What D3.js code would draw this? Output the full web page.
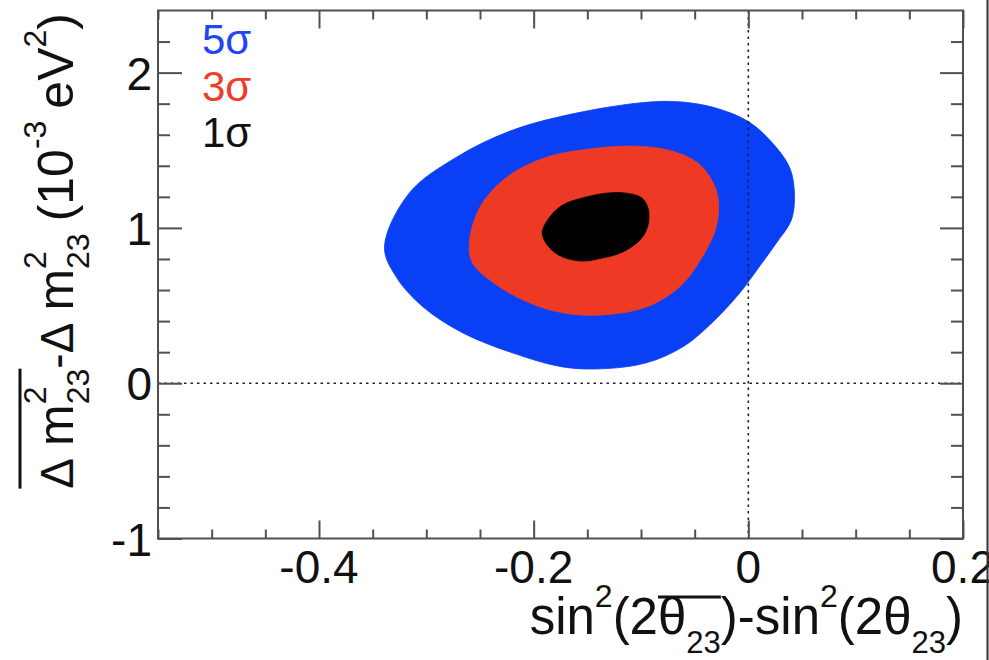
<!DOCTYPE html>
<html><head><meta charset="utf-8">
<script src="https://cdn.jsdelivr.net/npm/d3@7"></script>
<style>html,body{margin:0;padding:0;background:#fff;} svg{display:block;} text{font-family:"Liberation Sans",Arial,Helvetica,sans-serif;}</style>
</head><body>
<svg id="c" width="989" height="660"></svg>
<script>
// ---------- data ----------
const xDomain = [-0.55, 0.2];
const yDomain = [-1, 2.4];
const xMajorTicks = [-0.4, -0.2, 0, 0.2];
const xTickLabels = ["-0.4", "-0.2", "0", "0.2"];
const xMinorTicks = [-0.55, -0.5, -0.45, -0.35, -0.3, -0.25, -0.15, -0.1, -0.05, 0.05, 0.1, 0.15];
const yMajorTicks = [-1, 0, 1, 2];
const yTickLabels = ["-1", "0", "1", "2"];
const yMinorTicks = [-0.8, -0.6, -0.4, -0.2, 0.2, 0.4, 0.6, 0.8, 1.2, 1.4, 1.6, 1.8, 2.2];
const legendLabels = ["5σ", "3σ", "1σ"];

// contour outlines [sin2 diff, dm2 diff]
const contour5sigma = [
  [-0.339, 0.877], [-0.316, 1.224], [-0.272, 1.455], [-0.220, 1.629], [-0.157, 1.744],
  [-0.095, 1.809], [-0.064, 1.812], [-0.032, 1.775], [0.000, 1.685], [0.024, 1.535],
  [0.039, 1.380], [0.043, 1.205], [0.040, 1.050], [0.026, 0.902], [0.010, 0.748],
  [-0.008, 0.581], [-0.034, 0.388], [-0.061, 0.234], [-0.095, 0.131], [-0.136, 0.093],
  [-0.173, 0.105], [-0.220, 0.196], [-0.266, 0.324], [-0.303, 0.491], [-0.328, 0.684]
];
const contour3sigma = [
  [-0.260, 0.902], [-0.250, 1.134], [-0.225, 1.327], [-0.188, 1.455], [-0.142, 1.513],
  [-0.104, 1.526], [-0.074, 1.500], [-0.048, 1.423], [-0.034, 1.307], [-0.028, 1.179],
  [-0.030, 1.005], [-0.043, 0.812], [-0.064, 0.620], [-0.095, 0.491], [-0.136, 0.440],
  [-0.173, 0.453], [-0.210, 0.536], [-0.241, 0.665], [-0.257, 0.774]
];
const contour1sigma = [
  [-0.192, 0.967], [-0.185, 1.070], [-0.173, 1.147], [-0.155, 1.192], [-0.132, 1.224],
  [-0.114, 1.224], [-0.099, 1.192], [-0.093, 1.115], [-0.094, 1.005], [-0.101, 0.922],
  [-0.117, 0.845], [-0.136, 0.806], [-0.155, 0.787], [-0.173, 0.813], [-0.185, 0.870]
];

// ---------- drawing ----------
const svg = d3.select("#c");
const colors = { s5: "#0a40f5", s3: "#ee3a24", s1: "#000000" };
const legendColors = ["#1f45f5", "#f03c2a", "#111111"];
const axisColor = "#505050";

const L = 158, R = 963, T = 10.5, B = 538.5;
const x = d3.scaleLinear().domain(xDomain).range([L, R]);
const y = d3.scaleLinear().domain(yDomain).range([B, T]);

svg.append("rect").attr("width", 989).attr("height", 660).attr("fill", "#fff");

const line = d3.line().x(d => x(d[0])).y(d => y(d[1])).curve(d3.curveCatmullRomClosed.alpha(0.5));
[[contour5sigma, colors.s5], [contour3sigma, colors.s3], [contour1sigma, colors.s1]].forEach(([c, col]) => {
  svg.append("path").attr("d", line(c)).attr("fill", col).attr("stroke", col).attr("stroke-width", 0.8);
});

// dotted reference lines
svg.append("line").attr("x1", L).attr("x2", R).attr("y1", y(0)).attr("y2", y(0))
  .attr("stroke", "#222").attr("stroke-width", 1.6).attr("stroke-dasharray", "2.5,4");
svg.append("line").attr("x1", x(0)).attr("x2", x(0)).attr("y1", T).attr("y2", B)
  .attr("stroke", "#222").attr("stroke-width", 1.6).attr("stroke-dasharray", "2.5,4");

// ticks via d3 axes
function tickAxis(gen, vals, size, transform) {
  svg.append("g").attr("transform", transform)
    .call(gen.tickValues(vals).tickSize(size).tickFormat(""))
    .call(g => { g.select(".domain").remove(); g.selectAll("line").attr("stroke", axisColor).attr("stroke-width", 2); });
}
tickAxis(d3.axisBottom(x), xMinorTicks, -9, `translate(0,${B})`);
tickAxis(d3.axisBottom(x), xMajorTicks, -18, `translate(0,${B})`);
tickAxis(d3.axisTop(x), xMinorTicks, -9, `translate(0,${T})`);
tickAxis(d3.axisTop(x), xMajorTicks, -18, `translate(0,${T})`);
tickAxis(d3.axisLeft(y), yMinorTicks, -12, `translate(${L},0)`);
tickAxis(d3.axisLeft(y), yMajorTicks, -24, `translate(${L},0)`);
tickAxis(d3.axisRight(y), yMinorTicks, -12, `translate(${R},0)`);
tickAxis(d3.axisRight(y), yMajorTicks, -23, `translate(${R},0)`);

// frame
svg.append("rect").attr("x", L).attr("y", T).attr("width", R - L).attr("height", B - T)
  .attr("fill", "none").attr("stroke", axisColor).attr("stroke-width", 2);

// tick labels
svg.append("g").selectAll("text").data(xMajorTicks).join("text")
  .attr("x", d => x(d)).attr("y", 583).attr("text-anchor", "middle")
  .attr("font-size", 46).attr("fill", "#111").text((d, i) => xTickLabels[i]);
svg.append("g").selectAll("text").data(yMajorTicks).join("text")
  .attr("x", 152).attr("y", d => y(d) + 17).attr("text-anchor", "end")
  .attr("font-size", 46).attr("fill", "#111").text((d, i) => yTickLabels[i]);

// legend
svg.append("g").selectAll("text").data(legendLabels).join("text")
  .attr("x", 202).attr("y", (d, i) => 54 + i * 46.5)
  .attr("font-size", 42).attr("fill", (d, i) => legendColors[i]).text(d => d);

// rich text layout helper
function richText(parent, pieces, overY) {
  const g = parent.append("g");
  let cx = 0, lastStart = 0;
  const placed = [];
  pieces.forEach(p => {
    if (p.gap) cx += p.gap;
    const sx = p.stack ? lastStart : cx;
    const t = g.append("text").attr("x", sx).attr("y", p.dy || 0)
      .attr("font-size", p.size).attr("fill", "#111").text(p.t);
    const w = t.node().getComputedTextLength();
    placed.push({ sx, w, p });
    if (!p.stack) lastStart = sx;
    cx = Math.max(cx, sx + w);
  });
  const ov = placed.filter(d => d.p.over);
  if (ov.length) {
    const x0 = d3.min(ov, d => d.sx), x1 = d3.max(ov, d => d.sx + d.w);
    g.append("line").attr("x1", x0).attr("x2", x1).attr("y1", -overY).attr("y2", -overY)
      .attr("stroke", "#111").attr("stroke-width", 3);
  }
  return { g, width: cx };
}

// x title
const xt = richText(svg, [
  { t: "sin", size: 51 },
  { t: "2", size: 32, dy: -27 },
  { t: "(2", size: 51 },
  { t: "θ", size: 51, over: true },
  { t: "23", size: 31, dy: 19, over: true },
  { t: ")-sin", size: 51 },
  { t: "2", size: 32, dy: -27 },
  { t: "(2θ", size: 51 },
  { t: "23", size: 31, dy: 19 },
  { t: ")", size: 51 }
], 37);
xt.g.attr("transform", `translate(${963 - xt.width},634)`);

// y title
const yt = richText(svg, [
  { t: "Δ", size: 46, over: true },
  { t: "m", size: 50, gap: 12, over: true },
  { t: "2", size: 32, dy: -27, over: true },
  { t: "23", size: 32, dy: 16, stack: true, over: true },
  { t: "-Δ", size: 46 },
  { t: "m", size: 50, gap: 12 },
  { t: "2", size: 32, dy: -27 },
  { t: "23", size: 32, dy: 16, stack: true },
  { t: "(10", size: 50, gap: 12 },
  { t: "-3", size: 32, dy: -27 },
  { t: "eV", size: 50, gap: 12 },
  { t: "2", size: 32, dy: -27 },
  { t: ")", size: 50 }
], 53);
yt.g.attr("transform", `translate(73,13) rotate(-90) translate(${-yt.width},0)`);

// right image border
svg.append("line").attr("x1", 987.5).attr("x2", 987.5).attr("y1", 0).attr("y2", 660)
  .attr("stroke", "#333").attr("stroke-width", 2);
</script>
</body></html>
